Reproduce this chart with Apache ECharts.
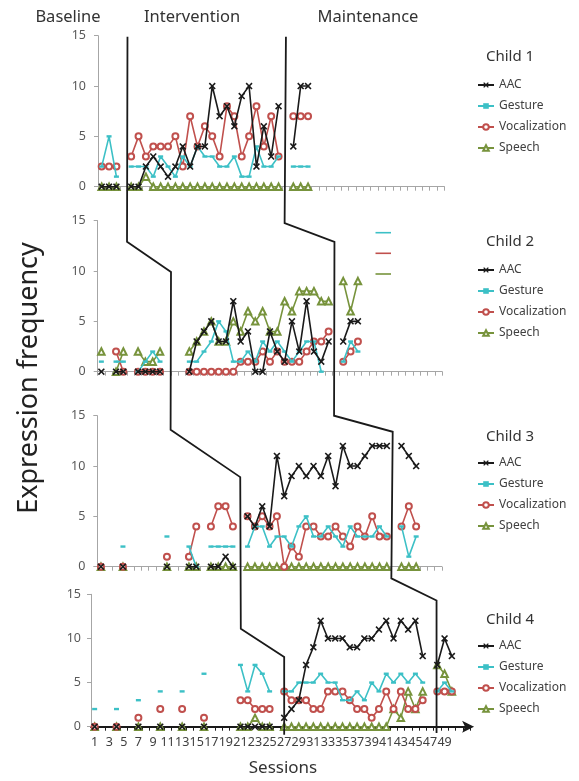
<!DOCTYPE html>
<html><head><meta charset="utf-8">
<script src="https://cdn.jsdelivr.net/npm/echarts@6/dist/echarts.min.js"></script>
<style>html,body{margin:0;padding:0;background:#fff}#c{width:579px;height:781px}</style>
</head><body><div id="c"></div>
<script>
// ---------- data ----------
const seriesNames = ['AAC', 'Gesture', 'Vocalization', 'Speech'];
const childNames = ['Child 1', 'Child 2', 'Child 3', 'Child 4'];
const phaseTitles = ['Baseline', 'Intervention', 'Maintenance'];
const yTickValues = [0, 5, 10, 15];
const sessionCountUpper = 47;
const sessionCountBottom = 52;
const lastSessionLabel = 49;

// Child 1
const c1Sessions = [1,2,3, 5,6,7,8,9,10,11,12,13,14,15,16,17,18,19,20,21,22,23,24,25, 27,28,29];
const c1AAC      = [0,0,0, 0,0,2,3,2,1,2,4,2,4,4,10,7,8,6,9,10,2,6,3,8, 4,10,10];
const c1Gesture  = [2,5,1, 2,2,2,1,3,2,1,3,2,4,3,3,2,2,3,1,1,4,2,2,3, 2,2,2];
const c1Vocal    = [2,2,2, 3,5,3,4,4,4,5,2,7,4,6,5,3,8,7,3,5,8,4,7,3, 7,7,7];
const c1Speech   = [0,0,0, 0,0,1,0,0,0,0,0,0,0,0,0,0,0,0,0,0,0,0,0,0, 0,0,0];

// Child 2
const c2Sessions = [1,3,4,6,7,8,9, 13,14,15,16,17,18,19,20,21,22,23,24,25,26,27,28,29,30,31,32, 34,35,36];
const c2AAC      = [0,0,0,0,0,0,0, 0,3,4,5,3,3,7,3,4,0,0,4,2,1,5,2,7,2,1,3, 3,5,5];
const c2Gesture  = [1,1,1,0,1,2,1, 1,1,2,3,5,4,1,1,2,1,3,2,3,2,1,2,3,3,0,null, 1,3,2];
const c2Vocal    = [null,2,0,0,0,0,0, 0,0,0,0,0,0,0,1,1,1,2,1,2,1,1,1,2,3,3,4, 1,2,3];
const c2Speech   = [2,0,2,2,1,1,2, 2,3,4,5,3,3,5,4,6,5,6,4,4,7,6,8,8,8,7,7, 9,6,9];

// Child 3
const c3Sessions = [1,4,10,13,14,16,17,18,19, 21,22,23,24,25,26,27,28,29,30,31,32,33,34,35,36,37,38,39,40, 42,43,44];
const c3AAC      = [0,0,0,0,0,0,0,1,0, 5,4,6,4,11,7,9,10,9,10,9,11,8,12,10,10,11,12,12,12, 12,11,10];
const c3Gesture  = [null,2,3,2,0,2,2,2,2, 2,4,4,2,3,3,2,4,5,3,3,4,3,2,4,3,3,3,4,3, 4,1,3];
const c3Vocal    = [0,0,1,1,4,4,6,6,4, 5,4,5,4,5,0,2,1,4,4,3,3,4,3,2,4,3,5,3,3, 4,6,4];
const c3Speech   = [0,0,0,0,0,0,0,0,0, 0,0,0,0,0,0,0,0,0,0,0,0,0,0,0,0,0,0,0,0, 0,0,0];

// Child 4
const c4Sessions = [1,4,7,10,13,16,21,22,23,24,25, 27,28,29,30,31,32,33,34,35,36,37,38,39,40,41,42,43,44,45,46, 48,49,50];
const c4AAC      = [0,0,0,0,0,0,0,0,0,0,0, 1,2,3,7,9,12,10,10,10,9,9,10,10,11,12,10,12,11,12,8, 7,10,8];
const c4Gesture  = [2,2,3,4,4,6,7,4,7,6,4, 4,4,5,5,5,6,5,5,3,3,4,3,5,4,6,5,6,5,6,5, 4,5,4];
const c4Vocal    = [0,0,1,2,2,1,3,3,2,2,2, 4,3,3,3,2,2,4,4,4,3,2,2,1,2,4,2,4,2,2,3, 4,4,4];
const c4Speech   = [0,0,0,0,0,0,0,0,1,0,0, 0,0,0,0,0,0,0,0,0,0,0,0,0,0,0,2,1,4,2,4, 7,6,4];

// phase-change lines: [panel, session position, y value in that panel]
const phaseLine1 = [[0,4.5,14.9],[1,4.5,12.9],[1,10.5,9.9],[2,10.5,13.6],[2,20,8.9],[3,21.05,11.1],[3,27,7.9],[3,27,-0.9]];
const phaseLine2 = [[0,26,14.9],[1,26,14.77],[1,32.8,12.9],[2,32.8,15],[2,40.8,13.4],[3,41.7,16.8],[3,47.9,14.3],[3,47.9,-0.7]];

// ---------- styling / layout ----------
const FONT = "'Noto Sans', 'Open Sans', sans-serif";
const COLORS = { AAC: '#1a1a1a', Gesture: '#3cc0c6', Vocalization: '#c0504d', Speech: '#77933c' };
const X_PATH = 'path://M0,1.6L1.6,0L5,3.4L8.4,0L10,1.6L6.6,5L10,8.4L8.4,10L5,6.6L1.6,10L0,8.4L3.4,5Z';
const panels = [
  { sessions: c1Sessions, vals: [c1AAC, c1Gesture, c1Vocal, c1Speech], n: sessionCountUpper, left: 98,   top: 35.7,  w: 7.37, h: 151,   legendTop: 73,  titleY: 57 },
  { sessions: c2Sessions, vals: [c2AAC, c2Gesture, c2Vocal, c2Speech], n: sessionCountUpper, left: 97.7, top: 220.7, w: 7.33, h: 151,   legendTop: 258, titleY: 242 },
  { sessions: c3Sessions, vals: [c3AAC, c3Gesture, c3Vocal, c3Speech], n: sessionCountUpper, left: 97.3, top: 415.7, w: 7.33, h: 151,   legendTop: 451, titleY: 437 },
  { sessions: c4Sessions, vals: [c4AAC, c4Gesture, c4Vocal, c4Speech], n: sessionCountBottom, left: 91,  top: 594.3, w: 7.29, h: 132.4, legendTop: 634, titleY: 620 }
];

function aligned(sessions, values, n) {
  const arr = new Array(n).fill(null);
  sessions.forEach((s, i) => { arr[s - 1] = values[i]; });
  return arr;
}
function symbolFor(name) {
  if (name === 'AAC') return { symbol: X_PATH, symbolSize: 7, itemStyle: { color: COLORS.AAC } };
  if (name === 'Gesture') return { symbol: 'rect', symbolSize: [5, 2.4], itemStyle: { color: COLORS.Gesture } };
  if (name === 'Vocalization') return { symbol: 'emptyCircle', symbolSize: 6, itemStyle: { color: COLORS.Vocalization, borderWidth: 1.5 } };
  return { symbol: 'emptyTriangle', symbolSize: 6.5, itemStyle: { color: COLORS.Speech, borderWidth: 1.5 } };
}

const grid = [], xAxis = [], yAxis = [], series = [], legend = [];
panels.forEach((p, i) => {
  const bottom = i === 3;
  grid.push({ left: p.left, top: p.top, width: p.n * p.w, height: p.h, containLabel: false });
  const cats = Array.from({ length: p.n }, (_, k) => String(k + 1));
  const axisColor = bottom ? '#1a1a1a' : '#a6a6a6';
  xAxis.push({
    gridIndex: i, type: 'category', data: cats, boundaryGap: true,
    axisLine: bottom
      ? { show: true, onZero: false, lineStyle: { color: axisColor, width: 2 }, symbol: ['none', 'arrow'], symbolSize: [9, 12], symbolOffset: [0, 4] }
      : { show: true, onZero: false, lineStyle: { color: axisColor, width: 1 } },
    axisTick: { show: true, interval: 0, length: 4, inside: false, lineStyle: { color: axisColor, width: 1 } },
    axisLabel: bottom
      ? { show: true, interval: 1, fontSize: 12.5, color: '#404040', fontFamily: FONT, margin: 9,
          formatter: v => (+v <= lastSessionLabel ? v : '') }
      : { show: false },
    splitLine: { show: false }
  });
  yAxis.push({
    gridIndex: i, type: 'value', min: yTickValues[0], max: yTickValues[yTickValues.length - 1], interval: yTickValues[1] - yTickValues[0],
    axisLine: { show: true, lineStyle: { color: '#a6a6a6' } },
    axisTick: { show: true, length: 4, lineStyle: { color: '#a6a6a6' } },
    axisLabel: { fontSize: 12.5, color: '#595959', fontFamily: FONT, margin: bottom ? 10 : 12 },
    splitLine: { show: false }
  });
  // draw order: Speech, Vocalization, Gesture, AAC (AAC on top)
  [3, 2, 1, 0].forEach((k, order) => {
    const name = seriesNames[k];
    const sym = symbolFor(name);
    series.push(Object.assign({
      name, type: 'line', xAxisIndex: i, yAxisIndex: i,
      data: aligned(p.sessions, p.vals[k], p.n),
      connectNulls: false, showSymbol: true, showAllSymbol: true, clip: false,
      lineStyle: { color: COLORS[name], width: 1.6 },
      emphasis: { disabled: true }, z: 2 + order, animation: false
    }, sym));
  });
  legend.push({
    data: seriesNames, orient: 'vertical', left: 472, top: p.legendTop,
    itemWidth: 16, itemHeight: 7, itemGap: 7, selectedMode: false,
    textStyle: { fontSize: 12, color: '#404040', fontFamily: FONT, lineHeight: 14 }
  });
});

const chart = echarts.init(document.getElementById('c'), null, { renderer: 'canvas' });
chart.setOption({ animation: false, backgroundColor: '#fff', grid, xAxis, yAxis, series, legend });

function toPx(panel, s, v) {
  const a = chart.convertToPixel({ gridIndex: panel }, [0, v]);
  const b = chart.convertToPixel({ gridIndex: panel }, [1, v]);
  return [a[0] + (s - 1) * (b[0] - a[0]), a[1]];
}
const graphic = [];
[phaseLine1, phaseLine2].forEach((line, li) => {
  graphic.push({ type: 'polyline', id: 'phase' + li, z: 50, silent: true,
    shape: { points: line.map(pt => toPx(pt[0], pt[1], pt[2])) },
    style: { stroke: '#1a1a1a', lineWidth: 1.8, fill: null } });
});
// header phase titles
const headerX = [68, 192, 368];
phaseTitles.forEach((t, i) => graphic.push({ type: 'text', x: headerX[i], y: 17, z: 60,
  style: { text: t, fill: '#333', font: '16.5px ' + FONT, align: 'center', verticalAlign: 'middle' } }));
// child titles
panels.forEach((p, i) => graphic.push({ type: 'text', x: 510, y: p.titleY, z: 60,
  style: { text: childNames[i], fill: '#333', font: '15px ' + FONT, align: 'center', verticalAlign: 'middle' } }));
// axis titles
graphic.push({ type: 'text', x: 283, y: 768, z: 60,
  style: { text: 'Sessions', fill: '#333', font: '17px ' + FONT, align: 'center', verticalAlign: 'middle' } });
graphic.push({ type: 'text', x: 29, y: 378, rotation: Math.PI / 2, z: 60,
  style: { text: 'Expression frequency', fill: '#222', font: '27px ' + FONT, align: 'center', verticalAlign: 'middle' } });
// stray legend keys in panel 2
[['Gesture', 232.7], ['Vocalization', 253.3], ['Speech', 274]].forEach(([n, y], i) => graphic.push({
  type: 'line', z: 40, shape: { x1: 375.5, y1: y, x2: 391, y2: y }, style: { stroke: COLORS[n], lineWidth: 1.6 } }));
chart.setOption({ graphic });
</script></body></html>
